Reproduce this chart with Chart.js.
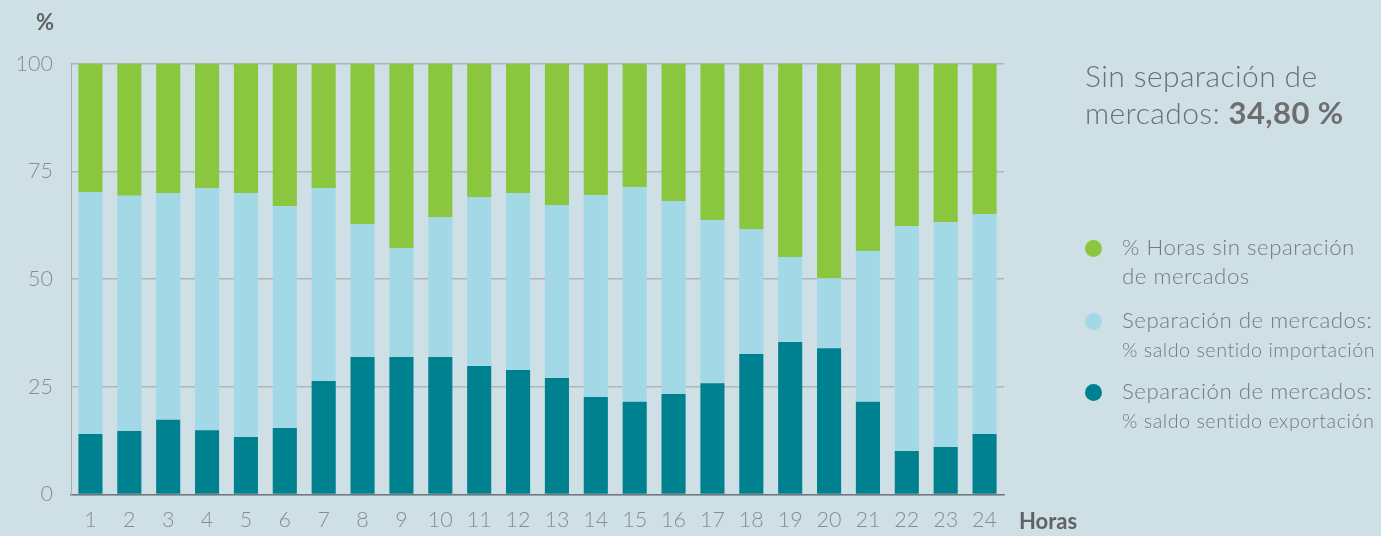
<!DOCTYPE html>
<html>
<head>
<meta charset="utf-8">
<script src="https://cdn.jsdelivr.net/npm/chart.js@4"></script>
<style>
  body { margin: 0; background: #cfdfe6; font-family: Lato, sans-serif; }
  #wrap { position: relative; width: 1381px; height: 536px; }
  #chart { position: absolute; left: 0; top: 0; }
  .lbl { position: absolute; color: #5f6366; font-weight: 700; font-size: 22px; }
  .title { position: absolute; left: 1085px; top: 57px; font-size: 30px; letter-spacing: 0.4px; font-weight: 300; color: #6d6e70; line-height: 37px; white-space: nowrap; }
  .title b { font-weight: 700; font-size: 31px; }
  .leg { position: absolute; left: 1085px; color: #76797c; font-weight: 300; }
  .leg .dot { position: absolute; left: 0; top: 8px; width: 17px; height: 17px; border-radius: 50%; }
  .leg .t1 { position: absolute; left: 37px; top: 0; font-size: 22.3px; letter-spacing: 0.5px; line-height: 29px; white-space: nowrap; }
  .leg .t2 { font-size: 19.8px; letter-spacing: 0.5px; }
</style>
</head>
<body>
<div id="wrap">
  <canvas id="chart" width="1381" height="536"></canvas>
  <div class="lbl" style="left:36px; top:8px;">%</div>
  <div class="lbl" style="left:1019px; top:507px;">Horas</div>
  <div class="title">Sin separación de<br>mercados: <b>34,80 %</b></div>
  <div class="leg" style="top:232px;"><div class="dot" style="background:#8bc63f"></div><div class="t1">% Horas sin separación<br>de mercados</div></div>
  <div class="leg" style="top:305px;"><div class="dot" style="background:#a3d9e6"></div><div class="t1">Separación de mercados:<br><span class="t2">% saldo sentido importación</span></div></div>
  <div class="leg" style="top:376px;"><div class="dot" style="background:#00818f"></div><div class="t1">Separación de mercados:<br><span class="t2">% saldo sentido exportación</span></div></div>
</div>
<script>
    let horas = ['1','2','3','4','5','6','7','8','9','10','11','12','13','14','15','16','17','18','19','20','21','22','23','24'];

    // top of the blue part (export + import)
    let totalSeparacion = [70.2, 69.3, 69.9, 71.1, 69.9, 66.9, 71.1, 62.7, 57.2, 64.4, 69.0, 69.9,
                           67.2, 69.5, 71.3, 68.1, 63.7, 61.6, 55.1, 50.2, 56.5, 62.3, 63.2, 65.1];
    // dark teal part
    let exportacion = [14.0, 14.7, 17.3, 14.9, 13.3, 15.4, 26.3, 31.9, 31.9, 31.9, 29.8, 28.9,
                       27.0, 22.6, 21.5, 23.3, 25.8, 32.6, 35.4, 33.9, 21.5, 10.1, 11.0, 14.0];

    let importacion = [];
    let sinSeparacion = [];
    for (let i = 0; i < horas.length; i++) {
        importacion.push(+(totalSeparacion[i] - exportacion[i]).toFixed(1));
        sinSeparacion.push(+(100 - totalSeparacion[i]).toFixed(1));
    }

    let yTicks = [0, 25, 50, 75, 100];

    let ctx = document.getElementById('chart').getContext('2d');
    let myChart = new Chart(ctx, {
        type: 'bar',
        data: {
            labels: horas,
            datasets: [
                { label: 'exportación', data: exportacion, backgroundColor: '#00818f' },
                { label: 'importación', data: importacion, backgroundColor: '#a3d9e6' },
                { label: 'sin separación', data: sinSeparacion, backgroundColor: '#8bc63f' }
            ]
        },
        options: {
            responsive: false,
            animation: false,
            datasets: { bar: { barPercentage: 0.62, categoryPercentage: 1 } },
            layout: { padding: { left: 0, right: 377, top: 63.6, bottom: 0 } },
            plugins: { legend: { display: false }, tooltip: { enabled: false } },
            scales: {
                x: {
                    stacked: true,
                    grid: { display: false, drawTicks: false },
                    border: { color: '#6f7a80', width: 1.5 },
                    ticks: { padding: 13, color: '#868d92', font: { family: 'Lato', size: 21.5, weight: 300 } },
                    afterFit: function(scale) { scale.height = 41.6; }
                },
                y: {
                    stacked: true,
                    min: 0,
                    max: 100,
                    afterBuildTicks: function(scale) { scale.ticks = yTicks.map(v => ({ value: v })); },
                    grid: { color: '#b2b5b8', lineWidth: 1.5, drawTicks: false },
                    border: { color: '#a7afb4', width: 1 },
                    ticks: { padding: 18, color: '#868d92', font: { family: 'Lato', size: 21.5, weight: 300 } },
                    afterFit: function(scale) { scale.width = 71; }
                }
            }
        }
    });
</script>
</body>
</html>
